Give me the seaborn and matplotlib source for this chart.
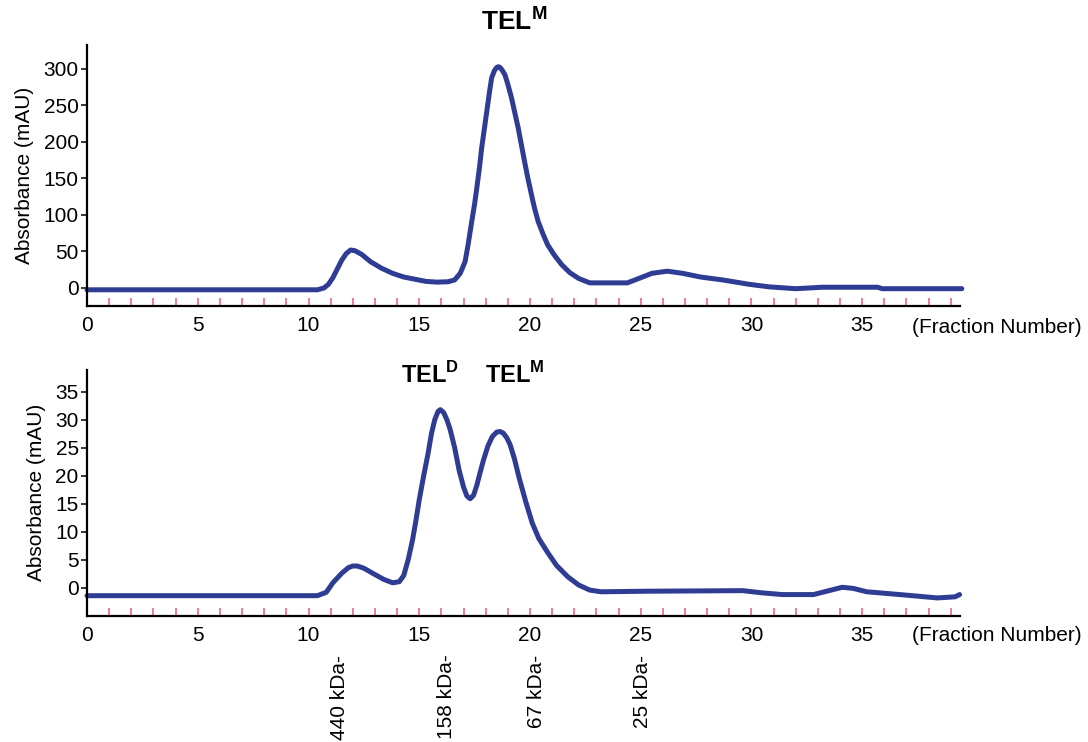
import numpy as np
import pandas as pd
import matplotlib
matplotlib.use("Agg")
import matplotlib.pyplot as plt
import seaborn as sns

# ─── DATA ─────────────────────────────────────────────────
top_fraction = [0, 10.4, 10.7, 10.9, 11.1, 11.3, 11.5, 11.7, 11.9, 12.1, 12.4,
                12.8, 13.3, 13.8, 14.3, 14.8, 15.3, 15.8, 16.3, 16.6, 16.85,
                17.07, 17.2, 17.37, 17.5, 17.6, 17.72, 17.82, 17.95, 18.05,
                18.17, 18.27, 18.4, 18.5, 18.57, 18.65, 18.75, 18.87, 19.0,
                19.17, 19.3, 19.47, 19.6, 19.77, 19.9, 20.08, 20.2, 20.37,
                20.6, 20.8, 21.1, 21.43, 21.8, 22.2, 22.7, 24.4, 25.0, 25.5,
                26.2, 26.9, 27.7, 28.7, 29.9, 30.8, 32.0, 33.2, 35.7, 35.9,
                39.5]
top_absorbance = [-2.5, -2.5, 0, 5, 14, 26, 38, 47, 52, 51, 46,
                  36, 27, 20, 15, 12, 9, 8, 8.5, 11, 20,
                  36, 58, 91, 115, 137, 165, 192, 220, 242,
                  268, 288, 298, 302, 303, 302, 298, 292, 279,
                  260, 242, 219, 198, 171, 151, 126, 110, 91,
                  73, 59, 45, 32, 21, 13, 7, 7, 14, 20,
                  23, 20, 15, 11, 5, 1.5, -1, 1, 1, -1,
                  -1]

bot_fraction = [0, 10.4, 10.8, 11.1, 11.5, 11.8, 12.0, 12.2, 12.5, 12.9, 13.4,
                13.8, 14.1, 14.3, 14.5, 14.7, 14.85, 15.0, 15.2, 15.4, 15.55,
                15.7, 15.85, 15.95, 16.1, 16.25, 16.4, 16.6, 16.8, 17.0,
                17.15, 17.3, 17.45, 17.6, 17.75, 17.9, 18.1, 18.3, 18.5,
                18.65, 18.8, 18.95, 19.1, 19.3, 19.5, 19.8, 20.1, 20.4,
                20.8, 21.2, 21.7, 22.2, 22.7, 23.2, 25.4, 29.6, 30.5, 31.4,
                32.8, 33.5, 34.1, 34.6, 35.2, 36.7, 38.4, 39.2, 39.4]
bot_absorbance = [-1.4, -1.4, -0.8, 0.9, 2.6, 3.6, 3.9, 3.9, 3.5, 2.6, 1.5,
                  0.9, 1.1, 2.2, 5, 8.6, 12, 15.7, 20, 24, 27.5,
                  30, 31.5, 31.8, 31.3, 30, 28.2, 25, 21, 18,
                  16.4, 15.9, 16.5, 18.3, 20.6, 22.8, 25.3, 27, 27.8,
                  27.9, 27.6, 26.8, 25.6, 23, 19.8, 15.5, 11.6, 8.8,
                  6.3, 4, 2, 0.5, -0.4, -0.7, -0.6, -0.5, -0.9, -1.2,
                  -1.2, -0.5, 0.1, -0.1, -0.7, -1.2, -1.8, -1.6, -1.2]

top_yticks = [0, 50, 100, 150, 200, 250, 300]
bot_yticks = [0, 5, 10, 15, 20, 25, 30, 35]
x_labelled = [0, 5, 10, 15, 20, 25, 30, 35]

marker_labels = ["440 kDa-", "158 kDa-", "67 kDa-", "25 kDa-"]
marker_fraction = [11.4, 16.25, 20.3, 25.1]

# ─── STYLE ────────────────────────────────────────────────
sns.set_theme(style="white")
plt.rcParams["font.family"] = ["Liberation Sans", "DejaVu Sans"]
plt.rcParams["mathtext.fontset"] = "custom"
plt.rcParams["mathtext.rm"] = "Liberation Sans"
plt.rcParams["mathtext.bf"] = "Liberation Sans:bold"
plt.rcParams["text.color"] = "black"
plt.rcParams["axes.labelcolor"] = "black"
plt.rcParams["xtick.labelcolor"] = "black"
plt.rcParams["ytick.labelcolor"] = "black"

LINE_COLOR = "#2E3C94"
TICK_RED = "#EE5A78"
FS = 15

fig = plt.figure(figsize=(10.88, 7.42), dpi=100)
ax_top = fig.add_axes([0.080, 0.5876, 0.802, 0.352])
ax_bot = fig.add_axes([0.080, 0.170, 0.802, 0.3315])


def style_axis(ax, yticks, ylim, fn_y):
    ax.set_xlim(0, 39.4)
    ax.set_ylim(*ylim)
    for side in ["top", "right"]:
        ax.spines[side].set_visible(False)
    for side in ["left", "bottom"]:
        ax.spines[side].set_color("black")
        ax.spines[side].set_linewidth(1.6)
    ints = list(range(0, 40))
    ax.set_xticks(ints)
    ax.set_xticklabels([str(i) if i in x_labelled else "" for i in ints])
    ax.tick_params(axis="x", direction="in", length=6, width=1.1,
                   color=TICK_RED, pad=7, labelsize=FS, bottom=True)
    ax.set_yticks(yticks)
    ax.tick_params(axis="y", direction="out", length=4, width=1.1,
                   color="black", pad=2, labelsize=FS, left=True)
    ax.set_ylabel("Absorbance (mAU)", fontsize=FS, labelpad=7)
    ax.set_xlabel("")
    ax.text(0.945, fn_y, "(Fraction Number)", transform=ax.transAxes,
            ha="left", va="top", fontsize=FS, clip_on=False)


# ─── TOP PANEL ────────────────────────────────────────────
top_df = pd.DataFrame({"fraction": top_fraction, "abs": top_absorbance})
sns.lineplot(data=top_df, x="fraction", y="abs", ax=ax_top,
             color=LINE_COLOR, lw=3.6, clip_on=False)
style_axis(ax_top, top_yticks, (-24.7, 333), -0.045)
fig.text(0.473, 0.972, r"$\mathbf{TEL}^{\mathbf{M}}$", ha="center",
         va="center", fontsize=19)

# ─── BOTTOM PANEL ─────────────────────────────────────────
bot_df = pd.DataFrame({"fraction": bot_fraction, "abs": bot_absorbance})
sns.lineplot(data=bot_df, x="fraction", y="abs", ax=ax_bot,
             color=LINE_COLOR, lw=3.6, clip_on=False)
style_axis(ax_bot, bot_yticks, (-5.0, 38.9), -0.04)
ax_bot.text(15.5, 38.0, r"$\mathbf{TEL}^{\mathbf{D}}$", ha="center",
            va="center", fontsize=17)
ax_bot.text(19.3, 38.0, r"$\mathbf{TEL}^{\mathbf{M}}$", ha="center",
            va="center", fontsize=17)

for lab, xf in zip(marker_labels, marker_fraction):
    ax_bot.annotate(lab, xy=(xf, -0.158), xycoords=("data", "axes fraction"),
                    rotation=90, ha="center", va="top", fontsize=FS,
                    annotation_clip=False)

fig.savefig("out.png", dpi=100)
